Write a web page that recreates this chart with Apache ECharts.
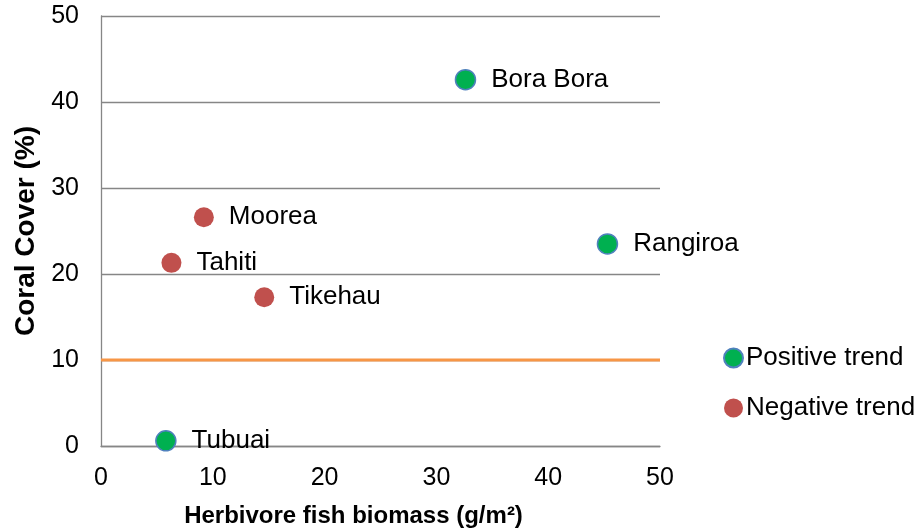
<!DOCTYPE html>
<html>
<head>
<meta charset="utf-8">
<script src="https://cdn.jsdelivr.net/npm/echarts@6/dist/echarts.min.js"></script>
<style>
  html, body { margin: 0; padding: 0; background: #fff; }
  #chart { width: 923px; height: 532px; }
</style>
</head>
<body>
<div id="chart"></div>
<script>
// islands and values
const positiveIslands = ['Bora Bora', 'Rangiroa', 'Tubuai']
const positiveBiomass = [32.6, 45.3, 5.8]
const positiveCover = [42.6, 23.5, 0.6]

const negativeIslands = ['Moorea', 'Tahiti', 'Tikehau']
const negativeBiomass = [9.2, 6.3, 14.6]
const negativeCover = [26.6, 21.3, 17.3]

const thresholdX = [0, 50]
const thresholdY = [10, 10]

const xTicks = [0, 50, 10]   // min, max, interval
const yTicks = [0, 50, 10]

const FONT = 'Liberation Sans, Arial, sans-serif'

function toPoints(names, xs, ys) {
  return names.map((n, i) => ({ name: n, value: [xs[i], ys[i]] }))
}

const chart = echarts.init(document.getElementById('chart'))

const pointLabel = {
  show: true,
  position: 'right',
  distance: 15,
  formatter: '{b}',
  color: '#000',
  fontSize: 26,
  fontFamily: FONT
}

const option = {
  animation: false,
  textStyle: { fontFamily: FONT },
  grid: { left: 101, right: 263, top: 16, bottom: 86, containLabel: false, outerBoundsMode: 'none' },
  legend: {
    orient: 'vertical',
    left: 718,
    top: 340,
    itemWidth: 19,
    itemHeight: 19,
    itemGap: 24,
    icon: 'circle',
    textStyle: { fontSize: 26, color: '#000', fontFamily: FONT, padding: [0, 0, 0, -2] },
    data: ['Positive trend', 'Negative trend']
  },
  xAxis: {
    type: 'value',
    min: xTicks[0],
    max: xTicks[1],
    interval: xTicks[2],
    name: 'Herbivore fish biomass (g/m²)',
    nameLocation: 'middle',
    nameGap: 58,
    nameTextStyle: { fontSize: 24, fontWeight: 'bold', color: '#000', fontFamily: FONT, padding: [0, 54, 0, 0] },
    axisLine: { show: true, lineStyle: { color: '#868686', width: 1.3 } },
    axisTick: { show: false },
    axisLabel: { fontSize: 25, color: '#000', margin: 20, fontFamily: FONT },
    splitLine: { show: false }
  },
  yAxis: {
    type: 'value',
    min: yTicks[0],
    max: yTicks[1],
    interval: yTicks[2],
    name: 'Coral Cover (%)',
    nameLocation: 'middle',
    nameGap: 53,
    nameTextStyle: { fontSize: 28, fontWeight: 'bold', color: '#000', fontFamily: FONT },
    axisLine: { show: true, lineStyle: { color: '#868686', width: 1.3 } },
    axisTick: { show: false },
    axisLabel: { fontSize: 25, color: '#000', margin: 22, fontFamily: FONT },
    splitLine: { show: true, lineStyle: { color: '#868686', width: 1.3 } }
  },
  series: [
    {
      name: 'threshold',
      type: 'line',
      data: thresholdX.map((x, i) => [x, thresholdY[i]]),
      symbol: 'none',
      lineStyle: { color: '#F79646', width: 3 },
      z: 3
    },
    {
      name: 'Positive trend',
      type: 'scatter',
      symbolSize: 20,
      data: toPoints(positiveIslands, positiveBiomass, positiveCover),
      itemStyle: { color: '#00B050', borderColor: '#4F81BD', borderWidth: 1.5, opacity: 1 },
      label: pointLabel,
      z: 5
    },
    {
      name: 'Negative trend',
      type: 'scatter',
      symbolSize: 20,
      data: toPoints(negativeIslands, negativeBiomass, negativeCover),
      itemStyle: { color: '#C0504D', opacity: 1 },
      label: pointLabel,
      z: 5
    }
  ]
}

chart.setOption(option)
</script>
</body>
</html>
